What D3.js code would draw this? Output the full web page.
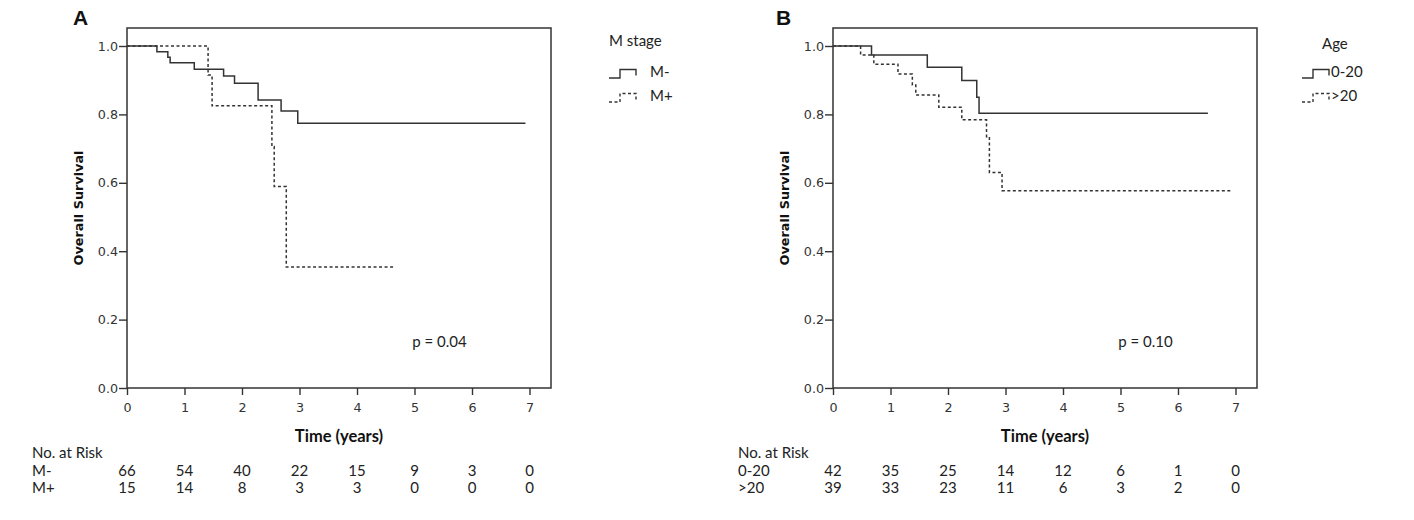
<!DOCTYPE html>
<html>
<head>
<meta charset="utf-8">
<script src="https://cdn.jsdelivr.net/npm/d3@7"></script>
<style>
  html, body { margin: 0; padding: 0; background: #fff; }
  svg { display: block; }
  .tick text { font-family: "DejaVu Sans", Verdana, sans-serif; font-size: 12.7px; fill: #333; }
  .tick line { stroke: #333; stroke-width: 1.4; }
</style>
</head>
<body>
<div id="chart"></div>
<script>
(function(){
  // Chart data
  const timeTicks = [0, 1, 2, 3, 4, 5, 6, 7];
  const survTicks = [0, 0.2, 0.4, 0.6, 0.8, 1.0];

  // Panel A: M stage
  const mNegTime = [0, 0.52, 0.71, 0.75, 1.17, 1.68, 1.87, 2.28, 2.68, 2.97, 6.93];
  const mNegSurv = [1, 0.983, 0.967, 0.951, 0.932, 0.912, 0.891, 0.842, 0.81, 0.774, 0.774];
  const mPosTime = [0, 1.41, 1.48, 2.52, 2.56, 2.77, 4.65];
  const mPosSurv = [1, 0.915, 0.825, 0.706, 0.589, 0.354, 0.354];
  const riskMNeg = [66, 54, 40, 22, 15, 9, 3, 0];
  const riskMPos = [15, 14, 8, 3, 3, 0, 0, 0];

  // Panel B: Age
  const youngTime = [0, 0.67, 1.64, 2.24, 2.5, 2.54, 6.52];
  const youngSurv = [1, 0.974, 0.938, 0.899, 0.85, 0.803, 0.803];
  const olderTime = [0, 0.48, 0.71, 1.13, 1.38, 1.44, 1.84, 2.24, 2.67, 2.72, 2.94, 6.93];
  const olderSurv = [1, 0.974, 0.947, 0.918, 0.886, 0.857, 0.821, 0.784, 0.735, 0.63, 0.577, 0.577];
  const riskYoung = [42, 35, 25, 14, 12, 6, 1, 0];
  const riskOlder = [39, 33, 23, 11, 6, 3, 2, 0];

  const width = 1414;
  const height = 520;
  const textFont = "Lato, 'Open Sans', sans-serif";
  const ink = "#333";

  const svg = d3.select("#chart").append("svg")
    .attr("width", width)
    .attr("height", height)
    .attr("viewBox", `0 0 ${width} ${height}`);

  svg.append("rect").attr("width", width).attr("height", height).attr("fill", "#fff");

  const panels = [
    {
      letter: "A", letterX: 73, left: 127,
      legendTitle: "M stage", legendTitleX: 0, legendTitleY: 46, legendX: 609, legendGap: 14,
      groups: ["M-", "M+"],
      series: [
        { time: mNegTime, surv: mNegSurv, risk: riskMNeg, dash: null },
        { time: mPosTime, surv: mPosSurv, risk: riskMPos, dash: "3,2.5" }
      ],
      pText: "p = 0.04"
    },
    {
      letter: "B", letterX: 776, left: 833,
      legendTitle: "Age", legendTitleX: 20, legendTitleY: 49, legendX: 1302, legendGap: 2,
      groups: ["0-20", ">20"],
      series: [
        { time: youngTime, surv: youngSurv, risk: riskYoung, dash: null },
        { time: olderTime, surv: olderSurv, risk: riskOlder, dash: "3,2.5" }
      ],
      pText: "p = 0.10"
    }
  ];

  const frameTop = 28, frameBottom = 388, frameW = 424;

  panels.forEach(p => {
    const g = svg.append("g");

    const x = d3.scaleLinear().domain([0, 7]).range([p.left, p.left + 402.5]);
    const y = d3.scaleLinear().domain([0, 1]).range([frameBottom, 46]);

    // panel letter
    g.append("text")
      .attr("x", p.letterX).attr("y", 25)
      .attr("font-family", "'Liberation Sans', Arial, sans-serif")
      .attr("font-weight", "bold").attr("font-size", 21)
      .attr("fill", "#111")
      .text(p.letter);

    // axes
    g.append("g")
      .attr("transform", `translate(0,${frameBottom})`)
      .call(d3.axisBottom(x).tickValues(timeTicks).tickFormat(d3.format("d")).tickSize(7).tickPadding(8))
      .call(a => a.select(".domain").remove());

    g.append("g")
      .attr("transform", `translate(${p.left},0)`)
      .call(d3.axisLeft(y).tickValues(survTicks).tickFormat(d3.format(".1f")).tickSize(8).tickPadding(1))
      .call(a => a.select(".domain").remove());

    // frame
    g.append("rect")
      .attr("x", p.left).attr("y", frameTop)
      .attr("width", frameW).attr("height", frameBottom - frameTop)
      .attr("fill", "none").attr("stroke", ink).attr("stroke-width", 1.5);

    // survival curves
    const line = d3.line()
      .x(d => x(d[0]))
      .y(d => y(d[1]))
      .curve(d3.curveStepAfter);

    p.series.forEach(s => {
      const pts = s.time.map((t, i) => [t, s.surv[i]]);
      g.append("path")
        .datum(pts)
        .attr("d", line)
        .attr("fill", "none")
        .attr("stroke", ink)
        .attr("stroke-width", 1.5)
        .attr("stroke-dasharray", s.dash);
    });

    // axis titles
    g.append("text")
      .attr("x", p.left + frameW / 2).attr("y", 442)
      .attr("text-anchor", "middle")
      .attr("font-family", textFont).attr("font-weight", "bold").attr("font-size", 16.5)
      .attr("fill", "#111")
      .text("Time (years)");

    g.append("text")
      .attr("transform", `translate(${p.left - 44},${(frameTop + frameBottom) / 2}) rotate(-90)`)
      .attr("text-anchor", "middle")
      .attr("font-family", "'DejaVu Sans', Verdana, sans-serif").attr("font-weight", "bold").attr("font-size", 12.8)
      .attr("fill", "#111")
      .text("Overall Survival");

    // p value
    g.append("text")
      .attr("x", x(4.96)).attr("y", 347)
      .attr("font-family", textFont).attr("font-size", 15)
      .attr("fill", "#222")
      .text(p.pText);

    // legend
    const lg = g.append("g").attr("transform", `translate(${p.legendX},0)`);
    lg.append("text")
      .attr("x", p.legendTitleX).attr("y", p.legendTitleY)
      .attr("font-family", textFont).attr("font-size", 15).attr("fill", "#222")
      .text(p.legendTitle);

    const rowY = [77, 101];
    p.series.forEach((s, i) => {
      const lowY = rowY[i] + 1, highY = rowY[i] - 7.5;
      const sym = d3.path();
      sym.moveTo(0, lowY);
      sym.lineTo(11, lowY);
      sym.lineTo(11, highY);
      sym.lineTo(27, highY);
      sym.lineTo(27, highY + 6);
      lg.append("path")
        .attr("d", sym.toString())
        .attr("fill", "none").attr("stroke", ink).attr("stroke-width", 1.4)
        .attr("stroke-dasharray", s.dash);
      lg.append("text")
        .attr("x", 27 + p.legendGap).attr("y", rowY[i])
        .attr("font-family", textFont).attr("font-size", 15).attr("fill", "#222")
        .text(p.groups[i]);
    });

    // number at risk table
    const tx = p.left - 95;
    g.append("text")
      .attr("x", tx).attr("y", 458)
      .attr("font-family", textFont).attr("font-size", 15).attr("fill", "#222")
      .text("No. at Risk");

    const tableRowY = [476, 493];
    p.series.forEach((s, i) => {
      g.append("text")
        .attr("x", tx).attr("y", tableRowY[i])
        .attr("font-family", textFont).attr("font-size", 15).attr("fill", "#222")
        .text(p.groups[i]);
      g.append("g").selectAll("text")
        .data(s.risk)
        .join("text")
        .attr("x", (d, j) => x(timeTicks[j]))
        .attr("y", tableRowY[i])
        .attr("text-anchor", "middle")
        .attr("font-family", textFont).attr("font-size", 15).attr("fill", "#222")
        .text(d => d);
    });
  });
})();
</script>
</body>
</html>
